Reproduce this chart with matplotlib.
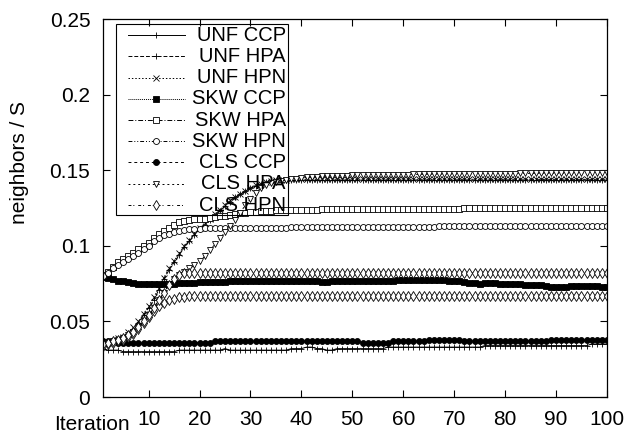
import matplotlib
matplotlib.use("Agg")
import matplotlib.pyplot as plt
from matplotlib.lines import Line2D
from matplotlib.patches import Rectangle

plt.rcParams['font.family'] = ['Liberation Sans', 'DejaVu Sans']

# valeurs (iteration 1..100)
iterations = list(range(1, 101))

unf_ccp = [
    0.032, 0.031, 0.031, 0.031, 0.030, 0.030, 0.030, 0.030, 0.030, 0.030,
    0.030, 0.030, 0.030, 0.030, 0.030, 0.031, 0.031, 0.031, 0.031, 0.031,
    0.031, 0.031, 0.031, 0.031, 0.032, 0.031, 0.031, 0.031, 0.031, 0.031,
    0.031, 0.031, 0.031, 0.031, 0.031, 0.031, 0.031, 0.032, 0.032, 0.032,
    0.033, 0.033, 0.032, 0.032, 0.031, 0.031, 0.032, 0.032, 0.032, 0.032,
    0.032, 0.032, 0.032, 0.032, 0.032, 0.032, 0.033, 0.033, 0.033, 0.033,
    0.033, 0.033, 0.033, 0.033, 0.033, 0.033, 0.033, 0.033, 0.033, 0.033,
    0.033, 0.033, 0.033, 0.033, 0.033, 0.034, 0.034, 0.034, 0.034, 0.034,
    0.034, 0.034, 0.034, 0.034, 0.034, 0.034, 0.034, 0.034, 0.034, 0.034,
    0.034, 0.034, 0.034, 0.034, 0.034, 0.034, 0.035, 0.035, 0.035, 0.035]

unf_hpa = [
    0.035, 0.036, 0.037, 0.038, 0.040, 0.042, 0.044, 0.049, 0.054, 0.059,
    0.064, 0.071, 0.078, 0.084, 0.089, 0.094, 0.099, 0.103, 0.107, 0.111,
    0.114, 0.117, 0.120, 0.123, 0.126, 0.129, 0.132, 0.134, 0.136, 0.138,
    0.1395, 0.141, 0.142, 0.1425, 0.143, 0.1432, 0.1433, 0.1433, 0.1434, 0.1434,
    0.1434, 0.1434, 0.1434, 0.1434, 0.1434, 0.1435, 0.1435, 0.1435, 0.1435, 0.1435,
    0.1435, 0.1435, 0.1435, 0.1435, 0.1435, 0.1435, 0.1435, 0.1435, 0.1435, 0.1435,
    0.1435, 0.1435, 0.1436, 0.1436, 0.1436, 0.1436, 0.1436, 0.1436, 0.1436, 0.1436,
    0.1436, 0.1436, 0.1436, 0.1436, 0.1436, 0.1436, 0.1436, 0.1436, 0.1436, 0.1436,
    0.1436, 0.1436, 0.1437, 0.1437, 0.1437, 0.1437, 0.1437, 0.1437, 0.1437, 0.1437,
    0.1437, 0.1437, 0.1437, 0.1437, 0.1437, 0.1437, 0.1437, 0.1437, 0.1437, 0.1437]

unf_hpn = [
    0.036, 0.036, 0.037, 0.039, 0.040, 0.043, 0.046, 0.050, 0.055, 0.060,
    0.066, 0.072, 0.079, 0.085, 0.090, 0.095, 0.100, 0.104, 0.108, 0.112,
    0.115, 0.118, 0.121, 0.124, 0.127, 0.130, 0.132, 0.134, 0.136, 0.138,
    0.140, 0.141, 0.142, 0.1428, 0.1433, 0.1436, 0.1438, 0.1439, 0.144, 0.144,
    0.144, 0.144, 0.144, 0.144, 0.144, 0.144, 0.144, 0.144, 0.144, 0.144,
    0.144, 0.144, 0.144, 0.144, 0.144, 0.144, 0.144, 0.144, 0.144, 0.144,
    0.144, 0.144, 0.144, 0.144, 0.144, 0.144, 0.144, 0.144, 0.144, 0.144,
    0.144, 0.144, 0.144, 0.144, 0.144, 0.144, 0.144, 0.144, 0.144, 0.144,
    0.144, 0.144, 0.144, 0.144, 0.144, 0.144, 0.144, 0.144, 0.144, 0.144,
    0.144, 0.144, 0.144, 0.144, 0.144, 0.144, 0.144, 0.144, 0.144, 0.144]

skw_ccp = [
    0.0795, 0.079, 0.078, 0.077, 0.0765, 0.076, 0.0755, 0.075, 0.0748, 0.0745,
    0.0745, 0.0745, 0.0745, 0.075, 0.075, 0.0752, 0.0755, 0.0755, 0.0757, 0.0758,
    0.076, 0.076, 0.076, 0.0762, 0.0762, 0.0765, 0.0765, 0.0765, 0.0767, 0.0767,
    0.0767, 0.0768, 0.0768, 0.0768, 0.0768, 0.077, 0.077, 0.077, 0.077, 0.077,
    0.077, 0.0768, 0.0765, 0.0763, 0.0763, 0.0765, 0.0767, 0.0767, 0.0767, 0.0768,
    0.0768, 0.0768, 0.0768, 0.0767, 0.0765, 0.0765, 0.0767, 0.077, 0.0772, 0.0772,
    0.0772, 0.0774, 0.0774, 0.0772, 0.0772, 0.0775, 0.0776, 0.0774, 0.077, 0.0768,
    0.0765, 0.076, 0.0757, 0.0753, 0.0748, 0.0752, 0.0755, 0.0752, 0.075, 0.0748,
    0.0748, 0.0745, 0.0745, 0.0742, 0.074, 0.074, 0.0738, 0.0735, 0.073, 0.0725,
    0.0725, 0.0728, 0.0732, 0.0735, 0.0735, 0.0737, 0.0735, 0.0732, 0.073, 0.073]

skw_hpa = [
    0.081, 0.083, 0.086, 0.089, 0.091, 0.093, 0.095, 0.098, 0.100, 0.102,
    0.105, 0.108, 0.110, 0.112, 0.114, 0.1155, 0.1165, 0.117, 0.1175, 0.118,
    0.118, 0.1185, 0.119, 0.1195, 0.120, 0.1205, 0.121, 0.1215, 0.122, 0.1222,
    0.1225, 0.1228, 0.123, 0.1232, 0.1234, 0.1235, 0.1236, 0.1237, 0.1238, 0.124,
    0.124, 0.124, 0.124, 0.1241, 0.1241, 0.1241, 0.1242, 0.1242, 0.1242, 0.1243,
    0.1243, 0.1243, 0.1243, 0.1244, 0.1244, 0.1244, 0.1244, 0.1244, 0.1245, 0.1245,
    0.1245, 0.1245, 0.1245, 0.1245, 0.1246, 0.1246, 0.1246, 0.1246, 0.1246, 0.1246,
    0.1246, 0.1247, 0.1247, 0.1247, 0.1247, 0.1247, 0.1247, 0.1247, 0.1247, 0.1247,
    0.1248, 0.1248, 0.1248, 0.1248, 0.1248, 0.1248, 0.1248, 0.1248, 0.1248, 0.1248,
    0.1248, 0.1248, 0.1248, 0.1248, 0.1248, 0.1248, 0.1249, 0.1249, 0.1249, 0.1249]

skw_hpn = [
    0.080, 0.082, 0.085, 0.087, 0.089, 0.091, 0.093, 0.095, 0.098, 0.100,
    0.103, 0.105, 0.107, 0.108, 0.109, 0.110, 0.1105, 0.111, 0.111, 0.1113,
    0.1115, 0.1115, 0.1116, 0.1116, 0.1117, 0.1117, 0.1118, 0.1118, 0.1119, 0.1119,
    0.112, 0.112, 0.112, 0.112, 0.1121, 0.1121, 0.1121, 0.1122, 0.1122, 0.1122,
    0.1122, 0.1123, 0.1123, 0.1123, 0.1123, 0.1124, 0.1124, 0.1124, 0.1124, 0.1125,
    0.1125, 0.1125, 0.1125, 0.1125, 0.1126, 0.1126, 0.1126, 0.1126, 0.1126, 0.1126,
    0.1127, 0.1127, 0.1127, 0.1127, 0.1127, 0.1127, 0.1128, 0.1128, 0.1128, 0.1128,
    0.1128, 0.1128, 0.1128, 0.1129, 0.1129, 0.1129, 0.1129, 0.1129, 0.1129, 0.1129,
    0.113, 0.113, 0.113, 0.113, 0.113, 0.113, 0.113, 0.113, 0.113, 0.113,
    0.113, 0.113, 0.113, 0.113, 0.113, 0.113, 0.113, 0.113, 0.113, 0.113]

cls_ccp = [
    0.037, 0.037, 0.037, 0.036, 0.036, 0.036, 0.036, 0.036, 0.036, 0.036,
    0.036, 0.036, 0.036, 0.036, 0.036, 0.036, 0.036, 0.036, 0.036, 0.036,
    0.036, 0.036, 0.037, 0.037, 0.037, 0.037, 0.037, 0.037, 0.037, 0.037,
    0.037, 0.037, 0.037, 0.037, 0.037, 0.037, 0.037, 0.037, 0.037, 0.037,
    0.037, 0.037, 0.037, 0.037, 0.037, 0.037, 0.037, 0.037, 0.037, 0.037,
    0.037, 0.036, 0.036, 0.036, 0.036, 0.036, 0.036, 0.037, 0.037, 0.037,
    0.037, 0.037, 0.037, 0.037, 0.038, 0.038, 0.038, 0.038, 0.038, 0.038,
    0.038, 0.037, 0.037, 0.037, 0.037, 0.037, 0.037, 0.037, 0.037, 0.037,
    0.037, 0.037, 0.037, 0.037, 0.037, 0.037, 0.037, 0.037, 0.038, 0.038,
    0.038, 0.038, 0.038, 0.038, 0.038, 0.038, 0.038, 0.038, 0.038, 0.038]

cls_hpa = [
    0.035, 0.036, 0.037, 0.038, 0.039, 0.041, 0.043, 0.046, 0.050, 0.054,
    0.059, 0.064, 0.069, 0.074, 0.078, 0.081, 0.083, 0.085, 0.087, 0.090,
    0.093, 0.097, 0.101, 0.105, 0.109, 0.113, 0.117, 0.122, 0.127, 0.131,
    0.135, 0.138, 0.140, 0.1415, 0.1425, 0.143, 0.1435, 0.144, 0.1445, 0.145,
    0.1452, 0.1455, 0.1457, 0.146, 0.146, 0.1462, 0.1463, 0.1464, 0.1465, 0.1466,
    0.1467, 0.1468, 0.1468, 0.1469, 0.147, 0.147, 0.147, 0.147, 0.147, 0.1471,
    0.1471, 0.1472, 0.1472, 0.1473, 0.1473, 0.1474, 0.1474, 0.1474, 0.1475, 0.1475,
    0.1475, 0.1476, 0.1476, 0.1476, 0.1477, 0.1477, 0.1477, 0.1477, 0.1478, 0.1478,
    0.1478, 0.1478, 0.1479, 0.1479, 0.1479, 0.1479, 0.148, 0.148, 0.148, 0.148,
    0.148, 0.148, 0.148, 0.1481, 0.1481, 0.1481, 0.1482, 0.1482, 0.1483, 0.1484]

cls_hpn = [
    0.034, 0.035, 0.036, 0.037, 0.038, 0.040, 0.042, 0.045, 0.049, 0.053,
    0.057, 0.060, 0.062, 0.064, 0.065, 0.066, 0.0663, 0.0665, 0.0665, 0.0665,
    0.0665, 0.0665, 0.0665, 0.0665, 0.0665, 0.0665, 0.0665, 0.0665, 0.0665, 0.0665,
    0.0665, 0.0665, 0.0665, 0.0665, 0.0665, 0.0665, 0.0665, 0.0665, 0.0665, 0.0665,
    0.0665, 0.0665, 0.0665, 0.0665, 0.0665, 0.0665, 0.0665, 0.0665, 0.0665, 0.0665,
    0.0665, 0.0665, 0.0665, 0.0665, 0.0665, 0.0665, 0.0665, 0.0665, 0.0665, 0.0665,
    0.0665, 0.0665, 0.0665, 0.0665, 0.0665, 0.0665, 0.0665, 0.0665, 0.0665, 0.0665,
    0.0665, 0.0665, 0.0665, 0.0665, 0.0665, 0.0665, 0.0665, 0.0665, 0.0665, 0.0665,
    0.0665, 0.0665, 0.0665, 0.0665, 0.0665, 0.0665, 0.0665, 0.0665, 0.0665, 0.0665,
    0.0665, 0.0665, 0.0665, 0.0665, 0.0665, 0.0665, 0.0665, 0.0665, 0.0665, 0.0665]

# courbe a losanges sans entree de legende (palier ~0.082)
extra_dia = [
    0.035, 0.036, 0.037, 0.038, 0.039, 0.041, 0.043, 0.046, 0.050, 0.054,
    0.059, 0.064, 0.069, 0.074, 0.078, 0.081, 0.082, 0.082, 0.082, 0.082,
    0.082, 0.082, 0.082, 0.082, 0.082, 0.082, 0.082, 0.082, 0.082, 0.082,
    0.082, 0.082, 0.082, 0.082, 0.082, 0.082, 0.082, 0.082, 0.082, 0.082,
    0.082, 0.082, 0.082, 0.082, 0.082, 0.082, 0.082, 0.082, 0.082, 0.082,
    0.082, 0.082, 0.082, 0.082, 0.082, 0.082, 0.082, 0.082, 0.082, 0.082,
    0.082, 0.082, 0.082, 0.082, 0.082, 0.082, 0.082, 0.082, 0.082, 0.082,
    0.082, 0.082, 0.082, 0.082, 0.082, 0.082, 0.082, 0.082, 0.082, 0.082,
    0.082, 0.082, 0.082, 0.082, 0.082, 0.082, 0.082, 0.082, 0.082, 0.082,
    0.082, 0.082, 0.082, 0.082, 0.082, 0.082, 0.082, 0.082, 0.082, 0.082]

labels = ["UNF CCP", "UNF HPA", "UNF HPN", "SKW CCP", "SKW HPA",
          "SKW HPN", "CLS CCP", "CLS HPA", "CLS HPN"]
series = [unf_ccp, unf_hpa, unf_hpn, skw_ccp, skw_hpa,
          skw_hpn, cls_ccp, cls_hpa, cls_hpn]

# style gnuplot : (linestyle, marker, marker rempli ?, taille)
styles = [
    ('-', '+', True, 4.8),
    ((0, (4, 2)), '+', True, 4.8),
    ((0, (1.5, 2)), 'x', True, 4.2),
    ((0, (1, 1)), 's', True, 4.6),
    ((0, (5, 2, 1, 2)), 's', False, 4.3),
    ((0, (4, 2, 1, 2, 1, 2)), 'o', False, 4.3),
    ((0, (3, 3)), 'o', True, 4.3),
    ((0, (2, 3)), 'v', False, 4.5),
    ((0, (3, 2, 1, 4)), 'd', False, 4.8),
]

LW = 0.7

fig = plt.figure(figsize=(6.27, 4.37), dpi=100)
ax = fig.add_axes([0.164, 0.0915, 0.804, 0.865])

def draw(y, st):
    ls, mk, filled, ms = st
    ax.plot(iterations, y, color='black', linestyle=ls, linewidth=LW,
            marker=mk, markersize=ms, markeredgewidth=0.6,
            markerfacecolor='black' if filled else 'white',
            markeredgecolor='black')

for y, st in zip(series, styles):
    draw(y, st)
draw(extra_dia, styles[8])

ax.set_xlim(1, 100)
ax.set_ylim(0, 0.25)
ax.set_xticks(range(10, 101, 10))
ax.set_yticks([0, 0.05, 0.1, 0.15, 0.2, 0.25])
ax.set_yticklabels(["0", "0.05", "0.1", "0.15", "0.2", "0.25"])
ax.tick_params(direction='in', length=5, width=0.8, top=True, right=True,
               labelsize=15)
ax.tick_params(axis='x', pad=9)
ax.tick_params(axis='y', pad=9)
for sp in ax.spines.values():
    sp.set_linewidth(0.9)

fig.text(20 / 627, 1 - 163 / 437, "neighbors / S", rotation=90,
         ha='center', va='center', fontsize=15)
fig.text(92 / 627, 1 - 425 / 437, "Iteration", ha='center', va='center',
         fontsize=15)

# legende a la gnuplot (transparente, texte aligne a droite)
ax.add_patch(Rectangle((0.026, 0.481), 0.341, 0.506, transform=ax.transAxes,
                       fill=False, edgecolor='black', linewidth=0.8, zorder=5))
row_px = [35, 56, 77.5, 98.5, 120, 141, 162, 183.5, 205]
for lab, st, ypx in zip(labels, styles, row_px):
    ls, mk, filled, ms = st
    yy = (397 - ypx) / 378
    ln = Line2D([0.0496, 0.106, 0.163], [yy, yy, yy], transform=ax.transAxes,
                color='black', linestyle=ls, linewidth=LW, marker=mk,
                markersize=ms, markeredgewidth=0.6, markevery=[1],
                markerfacecolor='black' if filled else 'white',
                markeredgecolor='black', zorder=5)
    ax.add_line(ln)
    ax.text(0.363, yy, lab, transform=ax.transAxes, ha='right', va='center',
            fontsize=14.5, zorder=5)

fig.savefig("out.png", dpi=100)
